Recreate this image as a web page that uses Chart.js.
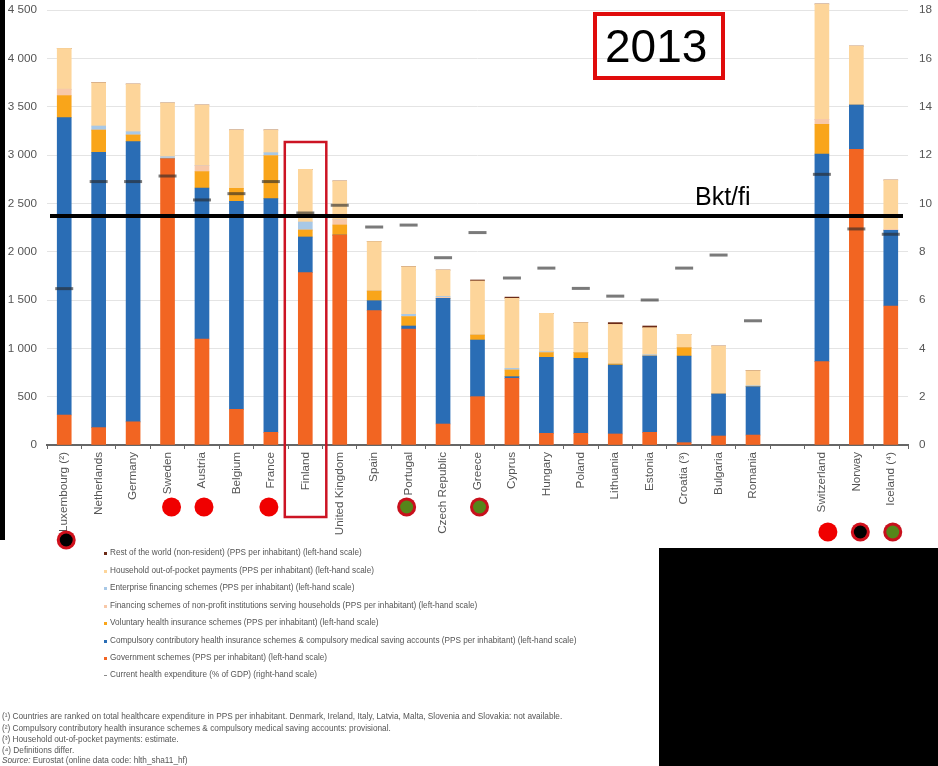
<!DOCTYPE html>
<html><head><meta charset="utf-8">
<style>
html,body{margin:0;padding:0;background:#fff;overflow:hidden}
#wrap{position:relative;width:938px;height:766px;font-family:"Liberation Sans",Arial,sans-serif}
canvas{position:absolute;left:0;top:0}
.blk{position:absolute;background:#000}
#year{position:absolute;left:593px;top:12px;width:132px;height:68px;box-sizing:border-box;border:4px solid #e00b0b;font-size:46px;line-height:60px;color:#000;padding-left:8px}
#bkt{position:absolute;left:695px;top:183px;font-size:25px;line-height:27px;color:#000}
.leg{position:absolute;left:110px;font-size:8.2px;line-height:12px;color:#555;white-space:nowrap}
.sw{position:absolute;left:104px;width:3px;height:3px}
.note{position:absolute;left:2px;font-size:8.25px;line-height:12px;color:#555;white-space:nowrap}
</style></head><body>
<div id="wrap">
<canvas id="c" width="938" height="766"></canvas>
<div class="blk" style="left:0;top:0;width:5px;height:540px"></div>
<div class="blk" style="left:659px;top:548px;width:279px;height:218px"></div>
<div id="year">2013</div>
<div id="bkt">Bkt/fi</div>
<div id="legend"></div>
<div id="notes"></div>
</div>
<script src="https://cdn.jsdelivr.net/npm/chart.js@4"></script>
<script>
const categories = ["Luxembourg (²)","Netherlands","Germany","Sweden","Austria","Belgium","France","Finland","United Kingdom","Spain","Portugal","Czech Republic","Greece","Cyprus","Hungary","Poland","Lithuania","Estonia","Croatia (³)","Bulgaria","Romania","","Switzerland","Norway","Iceland (⁴)"];
const government = [310,180,240,2960,1097,369,131,1783,2172,1390,1200,217,500,690,121,121,114,131,24,93,103,null,862,3059,1438];
const compulsory = [3076,2848,2898,0,1562,2152,2417,369,0,103,31,1300,586,17,786,776,714,790,897,435,500,null,2148,458,783];
const voluntary = [228,230,69,0,169,134,445,72,104,100,97,0,52,69,48,58,10,0,86,0,0,null,307,0,0];
const npish = [66,0,0,8,62,0,0,0,55,0,0,10,0,0,0,0,0,0,0,0,0,null,52,0,9];
const enterprise = [0,42,34,15,0,0,31,83,0,0,24,10,0,17,10,0,0,13,0,0,10,null,0,0,0];
const household = [423,448,493,555,627,604,235,545,400,512,493,273,559,724,397,311,410,280,138,496,156,null,1193,610,511];
const restOfWorld = [0,0,0,0,0,0,0,0,0,0,0,0,10,13,0,0,18,17,0,0,0,null,0,0,0];
const healthGdp = [6.47,10.9,10.9,11.13,10.14,10.4,10.9,9.6,9.92,9.02,9.1,7.75,8.79,6.91,7.32,6.48,6.16,6.0,7.32,7.86,5.14,null,11.2,8.94,8.72];

const legendRows = [
 ["Rest of the world (non-resident) (PPS per inhabitant) (left-hand scale)","#6b2a16",553],
 ["Household out-of-pocket payments (PPS per inhabitant) (left-hand scale)","#fdd59a",571],
 ["Enterprise financing schemes (PPS per inhabitant) (left-hand scale)","#a8c8e6",588],
 ["Financing schemes of non-profit institutions serving households (PPS per inhabitant) (left-hand scale)","#f8c8a8",606],
 ["Voluntary health insurance schemes (PPS per inhabitant) (left-hand scale)","#f9a51a",623],
 ["Compulsory contributory health insurance schemes & compulsory medical saving accounts (PPS per inhabitant) (left-hand scale)","#2a6db5",641],
 ["Government schemes (PPS per inhabitant) (left-hand scale)","#f26522",658],
 ["Current health expenditure (% of GDP) (right-hand scale)","#8a8a8a",675]
];
const footnotes = [
 ["(¹) Countries are ranked on total healthcare expenditure in PPS per inhabitant. Denmark, Ireland, Italy, Latvia, Malta, Slovenia and Slovakia: not available.",717],
 ["(²) Compulsory contributory health insurance schemes & compulsory medical saving accounts: provisional.",729],
 ["(³) Household out-of-pocket payments: estimate.",740],
 ["(⁴) Definitions differ.",751],
 ["<i>Source:</i>  Eurostat (online data code: hlth_sha11_hf)",761]
];
// annotation markers placed under country labels: [category, x nudge, y, ring, fill]
const dots = [
 ["Luxembourg (²)",2,540,"#d0101c","#000"],
 ["Sweden",4,507,"#f00000","#f00000"],
 ["Austria",2,507,"#f00000","#f00000"],
 ["France",-2,507,"#f00000","#f00000"],
 ["Portugal",-2,507,"#c8101c","#55861a"],
 ["Greece",2,507,"#c8101c","#55861a"],
 ["Switzerland",6,532,"#f00000","#f00000"],
 ["Norway",4,532,"#d0101c","#000"],
 ["Iceland (⁴)",2,532,"#c8101c","#55861a"]
];
const referenceLevel = 2369;

function bar(label,data,color){return {type:"bar",label,data,backgroundColor:color,borderWidth:0,barThickness:14,stack:"s",yAxisID:"y",order:2,clip:false};}
function flat(s,w){s.width=w;s.paddingTop=0;s.paddingBottom=0;}

const overlay = {
  id:"overlay",
  afterDatasetsDraw(ch){
    const g=ch.ctx,x=ch.scales.x,y=ch.scales.y;
    g.save();
    const fx=x.getPixelForValue(categories.indexOf("Finland"));
    g.strokeStyle="#cc1424";g.lineWidth=2.5;
    g.strokeRect(fx-20.5,142,41.5,375);
    g.fillStyle="#000";
    g.fillRect(50,y.getPixelForValue(referenceLevel)-2,853,4);
    dots.forEach(d=>{
      const cx=x.getPixelForValue(categories.indexOf(d[0]))+d[1];
      g.beginPath();g.arc(cx,d[2],9.5,0,Math.PI*2);g.fillStyle=d[3];g.fill();
      if(d[3]!==d[4]){g.beginPath();g.arc(cx,d[2],6.5,0,Math.PI*2);g.fillStyle=d[4];g.fill();}
    });
    g.restore();
  }
};

const chart = new Chart(document.getElementById("c"),{
  type:"bar",
  data:{labels:categories,datasets:[
    {type:"line",label:legendRows[7][0],data:healthGdp,yAxisID:"y2",showLine:false,order:1,clip:false,
     pointStyle:"line",pointRadius:9,pointBorderWidth:3,pointBorderColor:"rgba(40,40,40,0.62)",pointBackgroundColor:"rgba(40,40,40,0.62)"},
    bar(legendRows[6][0],government,legendRows[6][1]),
    bar(legendRows[5][0],compulsory,legendRows[5][1]),
    bar(legendRows[4][0],voluntary,legendRows[4][1]),
    bar(legendRows[3][0],npish,legendRows[3][1]),
    bar(legendRows[2][0],enterprise,legendRows[2][1]),
    bar(legendRows[1][0],household,legendRows[1][1]),
    bar(legendRows[0][0],restOfWorld,legendRows[0][1])
  ]},
  options:{
    responsive:false,animation:false,
    layout:{padding:{top:10,left:0,right:0,bottom:0},autoPadding:false},
    plugins:{legend:{display:false},tooltip:{enabled:false},title:{display:false}},
    scales:{
      x:{stacked:true,
        afterFit(s){s.height=321;s.paddingLeft=0;s.paddingRight=0;},
        grid:{drawOnChartArea:false,drawTicks:true,tickLength:4,color:"#666",offset:true},
        border:{color:"#666",width:2},
        ticks:{autoSkip:false,maxRotation:90,minRotation:90,padding:3,color:"#555",font:{family:"'Liberation Sans'",size:11.7}}},
      y:{stacked:true,position:"left",min:0,max:4500,
        afterFit(s){flat(s,47);},
        grid:{color:"#e4e4e4",drawTicks:false},
        border:{display:false},
        ticks:{stepSize:500,padding:10,color:"#555",font:{family:"'Liberation Sans'",size:11.7},
          callback:v=>v>=1000?String(v).replace(/(\d)(\d{3})$/,"$1 $2"):String(v)}},
      y2:{position:"right",min:0,max:18,
        afterFit(s){flat(s,30);},
        grid:{drawOnChartArea:false,drawTicks:false},
        border:{display:false},
        ticks:{stepSize:2,padding:11,color:"#555",font:{family:"'Liberation Sans'",size:11.7}}}
    }
  },
  plugins:[overlay]
});

document.getElementById("legend").innerHTML=legendRows.map(r=>{
  const dash=r[1]==="#8a8a8a";
  return `<div class="sw" style="top:${dash?r[2]:r[2]-1.5}px;background:${r[1]};${dash?"height:1px;":""}"></div><div class="leg" style="top:${r[2]-6}px">${r[0].replace(/&/g,"&amp;")}</div>`;
}).join("");
document.getElementById("notes").innerHTML=footnotes.map(n=>`<div class="note" style="top:${n[1]-6}px">${n[0]}</div>`).join("");
</script>
</body></html>
